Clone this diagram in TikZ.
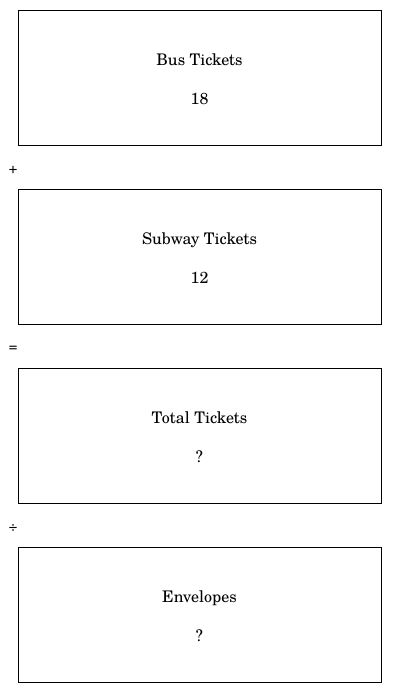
\documentclass[tikz,border=0pt]{standalone}
\usepackage{fontspec}
\setmainfont{TeX Gyre Schola}
\begin{document}
\begin{tikzpicture}[x=1pt,y=-1pt,
  box/.style={draw=black,line width=0.9pt,minimum width=363pt,minimum height=135pt,inner sep=0pt},
  lbl/.style={font=\fontsize{16}{19}\selectfont,anchor=base,inner sep=0pt},
  op/.style={font=\fontsize{14}{16}\selectfont}]
\useasboundingbox (0,0) rectangle (400,693);
\node[box] (b1) at (199.5,77.5) {};
\node[lbl] (t1) at (199.5,65.5) {Bus Tickets};
\node[lbl] (n1) at (199.5,104.5) {18};
\node[op] (o1) at (13,170) {+};
\node[box] (b2) at (199.5,256.5) {};
\node[lbl] (t2) at (199.5,244.5) {Subway Tickets};
\node[lbl] (n2) at (199.5,283.5) {12};
\node[op] (o2) at (13,349) {=};
\node[box] (b3) at (199.5,435.5) {};
\node[lbl] (t3) at (199.5,423.5) {Total Tickets};
\node[lbl] (n3) at (199.5,462.5) {?};
\node[op] (o3) at (13,528) {÷};
\node[box] (b4) at (199.5,614.5) {};
\node[lbl] (t4) at (199.5,602.5) {Envelopes};
\node[lbl] (n4) at (199.5,641.5) {?};
\end{tikzpicture}
\end{document}
